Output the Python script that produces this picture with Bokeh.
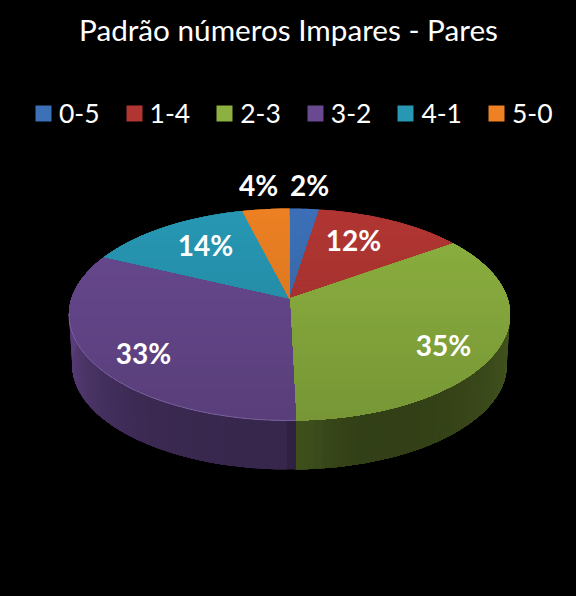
import numpy as np
from bokeh.plotting import figure
from bokeh.models import Range1d, Legend, LegendItem
from bokeh.core.properties import value
from bokeh.embed import file_html
from bokeh.resources import INLINE

title = "Padrão números Impares - Pares"
categories = ["0-5", "1-4", "2-3", "3-2", "4-1", "5-0"]
shares = [2.5, 12.7, 34.4, 32.4, 14.0, 4.0]
labels = ["2%", "12%", "35%", "33%", "14%", "4%"]
colors = ["#3a6cb0", "#ab3431", "#88ab3e", "#65478b", "#2692ad", "#e47c22"]

label_x = [309, 353, 443, 143, 205, 258]
label_y = [184, 239, 344, 352, 244, 184]

FONT = "Lato"
CX, CY = 289.0, 298.0
A, B, K = 103.6, 218.0, 0.151
DEPTH = 49.0
SHRINK = 0.985


def top_point(theta):
    X, Y = np.sin(theta), np.cos(theta)
    w = 1 + K * Y
    return CX + B * X / w, CY - A * Y / w


def low_point(theta):
    x, y = top_point(theta)
    return CX + (x - CX) * SHRINK, CY + (y - CY) * SHRINK + DEPTH + 122 * (1 - SHRINK)


def tint(hex_color, f):
    rgb = [int(hex_color[i:i + 2], 16) for i in (1, 3, 5)]
    return "#%02x%02x%02x" % tuple(int(min(255, max(0, c * f))) for c in rgb)


def clip_below(poly, y0):
    out = []
    for i in range(len(poly)):
        a, b = poly[i], poly[(i + 1) % len(poly)]
        if a[1] >= y0:
            out.append(a)
        if (a[1] >= y0) != (b[1] >= y0):
            t = (y0 - a[1]) / (b[1] - a[1])
            out.append((a[0] + t * (b[0] - a[0]), y0))
    return out


def wall_factor(theta):
    deg = np.degrees(theta)
    s2 = np.sin(theta) ** 2
    if deg > 180:
        return 0.56 + 0.32 * s2 ** 2
    return 0.37 + 0.13 * s2 ** 2 + 0.1 * np.exp(-((deg - 180) / 10) ** 2)


edges = np.concatenate([[0], np.cumsum(shares)]) / sum(shares) * 2 * np.pi

p = figure(width=576, height=596, output_backend="svg", toolbar_location=None,
           x_range=Range1d(0, 576), y_range=Range1d(596, 0),
           min_border=0, outline_line_color=None,
           background_fill_color="black", border_fill_color="black")
p.axis.visible = False
p.grid.visible = False

# side wall: each step repaints from its angle to the end of the slice
wx, wy, wc = [], [], []
for i, c in enumerate(colors):
    n = max(3, int((edges[i + 1] - edges[i]) / np.radians(2.0)))
    th = np.linspace(edges[i], edges[i + 1], n + 1)
    for j in range(n):
        seg = th[j:]
        xa, ya = top_point(seg)
        xb, yb = low_point(seg)
        wx.append(np.concatenate([xa, xb[::-1]]).tolist())
        wy.append(np.concatenate([ya, yb[::-1]]).tolist())
        wc.append(tint(c, wall_factor((th[j] + th[j + 1]) / 2)))
p.patches(wx, wy, fill_color=wc, line_color=None)

# top faces: bands painted from the back down to the front
bands = np.linspace(205, 424, 45)
face_renderers = []
for i, c in enumerate(colors):
    th = np.linspace(edges[i], edges[i + 1], 120)
    px, py = top_point(th)
    poly = [(CX, CY)] + list(zip(px.tolist(), py.tolist()))
    fx, fy, fc = [], [], []
    for y0, y1 in zip(bands[:-1], bands[1:]):
        pts = clip_below(poly, y0)
        if len(pts) >= 3:
            fx.append([q[0] for q in pts])
            fy.append([q[1] for q in pts])
            t = ((y0 + y1) / 2 - 208) / 212
            fc.append(tint(c, 1.04 - 0.16 * t))
    face_renderers.append(p.patches(fx, fy, fill_color=fc, line_color=None))

# thin highlight along the front rim
th = np.linspace(edges[3], np.radians(262), 100)
rx, ry = top_point(th)
p.line(rx, ry, line_color="#9078b0", line_width=1, line_alpha=0.6)

p.text(x=[288], y=[29], text=[title], text_color="white", text_align="center",
       text_baseline="middle", text_font=value(FONT), text_font_size="29.7px")

p.text(x=label_x, y=label_y, text=labels, text_color="white", text_align="center",
       text_baseline="middle", text_font=value(FONT), text_font_style="bold",
       text_font_size="28px")

items = [LegendItem(label=cat, renderers=[r], index=0)
         for cat, r in zip(categories, face_renderers)]
legend = Legend(items=items, orientation="horizontal", location=(28, 462),
                background_fill_alpha=0, border_line_alpha=0,
                label_text_color="white", label_text_font=FONT,
                label_text_font_size="26.5px", glyph_width=20, glyph_height=20,
                label_standoff=6, spacing=24, padding=5, margin=0)
p.add_layout(legend)

html = file_html(p, INLINE)
html = html.replace("<head>", "<head><style>html,body{background:#000;margin:0;overflow:hidden}</style>", 1)
open("out.html", "w").write(html)
